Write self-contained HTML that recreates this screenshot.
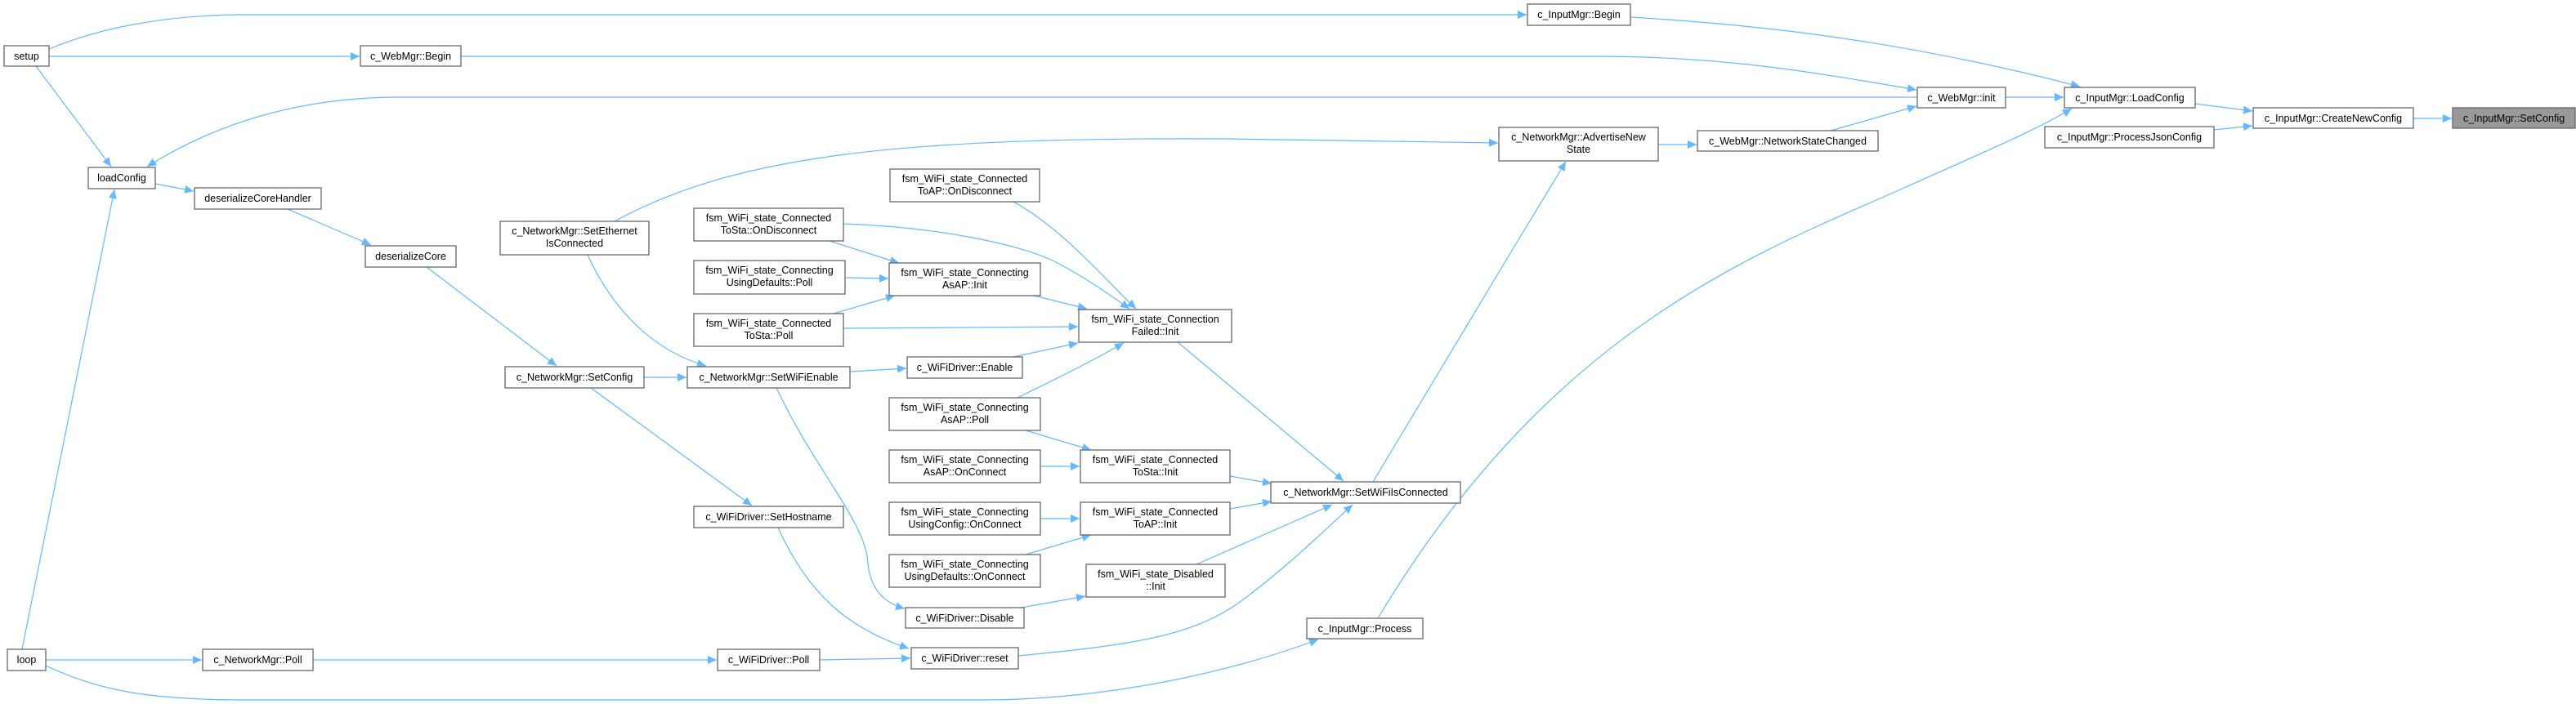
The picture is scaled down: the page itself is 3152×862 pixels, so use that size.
<!DOCTYPE html>
<html><head><meta charset="utf-8"><style>
html,body{margin:0;padding:0;background:#fff}
svg{display:block}
text{font-family:"Liberation Sans",Arial,sans-serif;font-size:12.5px;fill:#000;text-anchor:middle}
.n{fill:#fff;stroke:#666;stroke-width:1.3}
.e{fill:none;stroke:#63b8ff;stroke-width:1.2}
</style></head><body>
<svg width="3152" height="862" viewBox="0 0 3152 862" xmlns="http://www.w3.org/2000/svg">
<defs><marker id="a" markerWidth="12" markerHeight="10" refX="11" refY="5" orient="auto" markerUnits="userSpaceOnUse"><path d="M0,0 L11,5 L0,10 z" fill="#63b8ff"/></marker></defs>
<g class="e" marker-end="url(#a)">
<path d="M60,60 C120,35 200,18 300,18 L1868,18"/>
<path d="M60,69 L440,69"/>
<path d="M44,81 L136,204"/>
<path d="M2346,119 L490,119 C350,119 250,160 180,204"/>
<path d="M27,795 L140,232"/>
<path d="M190,225 L237,234"/>
<path d="M352,256 L454,300"/>
<path d="M522,327 L681,448"/>
<path d="M788,462 L840,462"/>
<path d="M723,475 L920,619"/>
<path d="M719,312 C750,380 800,430 864,448"/>
<path d="M752,271 C900,190 1100,168 1500,170 L1833,175"/>
<path d="M1040,455 L1109,451"/>
<path d="M950,475 C1000,580 1060,640 1062,690 C1065,720 1080,738 1107,745"/>
<path d="M1003,808 L1114,806"/>
<path d="M952,646 C990,730 1040,770 1112,794"/>
<path d="M56,808 L247,808"/>
<path d="M383,808 L877,808"/>
<path d="M56,815 C120,845 180,857 300,857 L1200,857 C1350,857 1500,825 1613,783"/>
<path d="M1686,757 C1900,400 2150,310 2330,230 C2430,185 2490,160 2535,133"/>
<path d="M1680,590 L1854,300 L1916,198"/>
<path d="M1441,419 L1644,589"/>
<path d="M1505,583 L1556,592"/>
<path d="M1505,623 L1556,614"/>
<path d="M1464,691 L1630,618"/>
<path d="M1246,803 C1380,790 1460,780 1520,735 C1580,690 1620,650 1655,618"/>
<path d="M2029,177 L2076,177"/>
<path d="M2240,160 L2345,130"/>
<path d="M564,69 L1950,69 C2100,69 2200,85 2345,110"/>
<path d="M2454,119 L2525,119"/>
<path d="M1995,21 C2150,30 2330,50 2545,106"/>
<path d="M2686,127 L2756,136"/>
<path d="M2709,159 L2756,154"/>
<path d="M2953,145 L3000,145"/>
<path d="M1240,247 C1300,280 1350,340 1390,378"/>
<path d="M1032,274 C1150,278 1250,300 1290,320 C1320,335 1350,355 1382,378"/>
<path d="M1015,295 L1100,322"/>
<path d="M1034,340 L1087,341"/>
<path d="M1020,384 L1095,362"/>
<path d="M1032,402 L1319,400"/>
<path d="M1265,362 L1330,378"/>
<path d="M1240,437 L1319,420"/>
<path d="M1245,487 C1300,460 1340,440 1375,420"/>
<path d="M1255,527 L1335,551"/>
<path d="M1273,571 L1321,571"/>
<path d="M1273,635 L1321,635"/>
<path d="M1255,679 L1335,655"/>
<path d="M1250,744 L1328,730"/>
</g>
<g>
<rect class="n" x="5" y="56" width="55" height="25"/><text x="32.5" y="73">setup</text>
<rect class="n" x="441" y="56" width="123" height="25"/><text x="502.5" y="73">c_WebMgr::Begin</text>
<rect class="n" x="108" y="205" width="82" height="26"/><text x="149" y="222">loadConfig</text>
<rect class="n" x="238" y="230" width="155" height="26"/><text x="315.5" y="247">deserializeCoreHandler</text>
<rect class="n" x="447" y="301" width="111" height="26"/><text x="502.5" y="318">deserializeCore</text>
<rect class="n" x="612" y="271" width="182" height="41"/><text x="703" y="287">c_NetworkMgr::SetEthernet</text><text x="703" y="302">IsConnected</text>
<rect class="n" x="618" y="449" width="170" height="26"/><text x="703" y="466">c_NetworkMgr::SetConfig</text>
<rect class="n" x="841" y="449" width="199" height="26"/><text x="940.5" y="466">c_NetworkMgr::SetWiFiEnable</text>
<rect class="n" x="849" y="620" width="183" height="26"/><text x="940.5" y="637">c_WiFiDriver::SetHostname</text>
<rect class="n" x="9" y="795" width="47" height="26"/><text x="32.5" y="812">loop</text>
<rect class="n" x="248" y="795" width="135" height="26"/><text x="315.5" y="812">c_NetworkMgr::Poll</text>
<rect class="n" x="878" y="795" width="125" height="26"/><text x="940.5" y="812">c_WiFiDriver::Poll</text>
<rect class="n" x="849" y="255" width="183" height="40"/><text x="940.5" y="271">fsm_WiFi_state_Connected</text><text x="940.5" y="286">ToSta::OnDisconnect</text>
<rect class="n" x="849" y="319" width="185" height="41"/><text x="941.5" y="335">fsm_WiFi_state_Connecting</text><text x="941.5" y="350">UsingDefaults::Poll</text>
<rect class="n" x="849" y="384" width="183" height="40"/><text x="940.5" y="400">fsm_WiFi_state_Connected</text><text x="940.5" y="415">ToSta::Poll</text>
<rect class="n" x="1089" y="207" width="183" height="40"/><text x="1180.5" y="223">fsm_WiFi_state_Connected</text><text x="1180.5" y="238">ToAP::OnDisconnect</text>
<rect class="n" x="1088" y="322" width="185" height="40"/><text x="1180.5" y="338">fsm_WiFi_state_Connecting</text><text x="1180.5" y="353">AsAP::Init</text>
<rect class="n" x="1110" y="437" width="141" height="26"/><text x="1180.5" y="454">c_WiFiDriver::Enable</text>
<rect class="n" x="1088" y="487" width="185" height="40"/><text x="1180.5" y="503">fsm_WiFi_state_Connecting</text><text x="1180.5" y="518">AsAP::Poll</text>
<rect class="n" x="1088" y="551" width="185" height="40"/><text x="1180.5" y="567">fsm_WiFi_state_Connecting</text><text x="1180.5" y="582">AsAP::OnConnect</text>
<rect class="n" x="1088" y="615" width="185" height="40"/><text x="1180.5" y="631">fsm_WiFi_state_Connecting</text><text x="1180.5" y="646">UsingConfig::OnConnect</text>
<rect class="n" x="1088" y="679" width="185" height="40"/><text x="1180.5" y="695">fsm_WiFi_state_Connecting</text><text x="1180.5" y="710">UsingDefaults::OnConnect</text>
<rect class="n" x="1108" y="744" width="145" height="25"/><text x="1180.5" y="761">c_WiFiDriver::Disable</text>
<rect class="n" x="1115" y="793" width="131" height="26"/><text x="1180.5" y="810">c_WiFiDriver::reset</text>
<rect class="n" x="1320" y="379" width="187" height="40"/><text x="1413.5" y="395">fsm_WiFi_state_Connection</text><text x="1413.5" y="410">Failed::Init</text>
<rect class="n" x="1322" y="551" width="183" height="40"/><text x="1413.5" y="567">fsm_WiFi_state_Connected</text><text x="1413.5" y="582">ToSta::Init</text>
<rect class="n" x="1322" y="615" width="183" height="40"/><text x="1413.5" y="631">fsm_WiFi_state_Connected</text><text x="1413.5" y="646">ToAP::Init</text>
<rect class="n" x="1329" y="691" width="170" height="40"/><text x="1414" y="707">fsm_WiFi_state_Disabled</text><text x="1414" y="722">::Init</text>
<rect class="n" x="1555" y="590" width="232" height="26"/><text x="1671" y="607">c_NetworkMgr::SetWiFiIsConnected</text>
<rect class="n" x="1599" y="757" width="142" height="25"/><text x="1670" y="774">c_InputMgr::Process</text>
<rect class="n" x="1869" y="5" width="126" height="26"/><text x="1932" y="22">c_InputMgr::Begin</text>
<rect class="n" x="1834" y="156" width="195" height="41"/><text x="1931.5" y="172">c_NetworkMgr::AdvertiseNew</text><text x="1931.5" y="187">State</text>
<rect class="n" x="2077" y="160" width="221" height="25"/><text x="2187.5" y="177">c_WebMgr::NetworkStateChanged</text>
<rect class="n" x="2346" y="107" width="108" height="25"/><text x="2400" y="124">c_WebMgr::init</text>
<rect class="n" x="2526" y="107" width="160" height="25"/><text x="2606" y="124">c_InputMgr::LoadConfig</text>
<rect class="n" x="2502" y="155" width="207" height="26"/><text x="2605.5" y="172">c_InputMgr::ProcessJsonConfig</text>
<rect class="n" x="2757" y="132" width="196" height="25"/><text x="2855" y="149">c_InputMgr::CreateNewConfig</text>
<rect x="3001" y="132" width="150" height="25" fill="#999" stroke="#666" stroke-width="1.3"/><text x="3076" y="149">c_InputMgr::SetConfig</text>
</g>
</svg>
</body></html>
